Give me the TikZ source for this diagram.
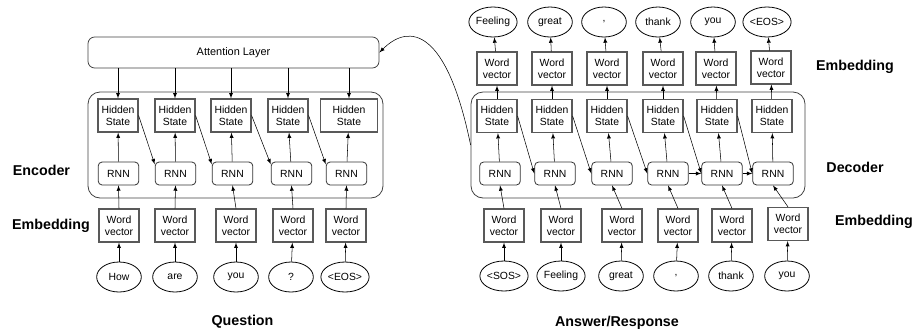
\documentclass[tikz,border=0pt]{standalone}
\usepackage{fontspec}
\setmainfont{Liberation Sans}
\usepackage{tikz}
\usetikzlibrary{shapes.geometric}

\begin{document}
\begin{tikzpicture}[x=0.75pt,y=-0.75pt,>=latex,
    sq_node/.style={rectangle,draw=black!65,line width=0.9pt,minimum width=30pt,minimum height=24.75pt,inner sep=0pt,align=center,font=\fontsize{7.8}{9}\selectfont},
    rnn_node/.style={rectangle,rounded corners=3pt,draw=black!80,line width=0.6pt,minimum width=30.5pt,minimum height=17.25pt,inner sep=0pt,font=\fontsize{7.8}{9}\selectfont},
    word_node/.style={ellipse,draw,line width=0.6pt,minimum width=33.5pt,minimum height=22.5pt,inner sep=0pt,font=\fontsize{7.8}{9}\selectfont},
    group_node/.style={rectangle,rounded corners=9pt,draw=black!75,line width=0.6pt,inner sep=0pt},
    label_node/.style={font=\fontsize{10.7}{12}\bfseries\selectfont}]

    \useasboundingbox (0,0) rectangle (916,333);

    % encoder
    \node[group_node,minimum width=221.25pt,minimum height=79.5pt] (enc) at (235.5,145) {};
    \node[group_node,rounded corners=5pt,minimum width=218.25pt,minimum height=23.25pt,font=\fontsize{8.2}{9}\selectfont] (att) at (233.5,52.5) {Attention Layer};

    \node[sq_node] (hs1) at (118,115.5) {Hidden\\State};
    \node[sq_node] (hs2) at (175,115.5) {Hidden\\State};
    \node[sq_node] (hs3) at (231,115.5) {Hidden\\State};
    \node[sq_node] (hs4) at (288,115.5) {Hidden\\State};
    \node[sq_node,minimum width=43pt] (hs5) at (349,115.5) {Hidden\\State};

    \node[rnn_node] (rnn1) at (118.5,173.5) {RNN};
    \node[rnn_node] (rnn2) at (175.5,173.5) {RNN};
    \node[rnn_node] (rnn3) at (232.5,173.5) {RNN};
    \node[rnn_node] (rnn4) at (291.5,173.5) {RNN};
    \node[rnn_node] (rnn5) at (346.5,173.5) {RNN};

    \node[sq_node] (wv1) at (119,225.5) {Word\\vector};
    \node[sq_node] (wv2) at (175,225.5) {Word\\vector};
    \node[sq_node] (wv3) at (236,225.5) {Word\\vector};
    \node[sq_node] (wv4) at (293,225.5) {Word\\vector};
    \node[sq_node] (wv5) at (346,225.5) {Word\\vector};

    \node[word_node] (w1) at (119,277) {How};
    \node[word_node] (w2) at (175,277) {are};
    \node[word_node] (w3) at (236,277) {you};
    \node[word_node] (w4) at (291,277) {?};
    \node[word_node] (w5) at (345,277) {<EOS>};

    \foreach \i in {1,...,5} {
        \draw[->] (w\i) -- (wv\i);
        \draw[->] (wv\i.north) -- (rnn\i.south);
        \draw[->] (rnn\i) -- (hs\i);
        \draw[->] (att.south -| hs\i.north) -- (hs\i.north);
    }
    \draw[->] (hs1.east) -- ([yshift=-2pt]rnn2.north west);
    \draw[->] (hs2.east) -- ([yshift=-2pt]rnn3.north west);
    \draw[->] (hs3.east) -- ([yshift=-2pt]rnn4.north west);
    \draw[->] (hs4.east) -- ([yshift=-2pt]rnn5.north west);

    % decoder
    \node[group_node,minimum width=250.5pt,minimum height=79.5pt] (dec) at (638,145) {};

    \node[word_node] (o1) at (493,22) {Feeling};
    \node[word_node] (o2) at (550,22) {great};
    \node[word_node] (o3) at (604,22) {,};
    \node[word_node] (o4) at (658,22) {thank};
    \node[word_node] (o5) at (713,22) {you};
    \node[word_node] (o6) at (767,22) {<EOS>};

    \node[sq_node] (owv1) at (497,68.5) {Word\\vector};
    \node[sq_node] (owv2) at (552,68.5) {Word\\vector};
    \node[sq_node] (owv3) at (607,68.5) {Word\\vector};
    \node[sq_node] (owv4) at (663,68.5) {Word\\vector};
    \node[sq_node] (owv5) at (716,68.5) {Word\\vector};
    \node[sq_node] (owv6) at (771,67.5) {Word\\vector};

    \node[sq_node] (dhs1) at (497,116) {Hidden\\State};
    \node[sq_node] (dhs2) at (552,116) {Hidden\\State};
    \node[sq_node] (dhs3) at (607,116) {Hidden\\State};
    \node[sq_node] (dhs4) at (663,116) {Hidden\\State};
    \node[sq_node] (dhs5) at (717,116) {Hidden\\State};
    \node[sq_node] (dhs6) at (772,116) {Hidden\\State};

    \node[rnn_node] (drnn1) at (500,173.5) {RNN};
    \node[rnn_node] (drnn2) at (555,173.5) {RNN};
    \node[rnn_node] (drnn3) at (612,173.5) {RNN};
    \node[rnn_node] (drnn4) at (668,173.5) {RNN};
    \node[rnn_node] (drnn5) at (722,173.5) {RNN};
    \node[rnn_node] (drnn6) at (773,173.5) {RNN};

    \node[sq_node] (iwv1) at (504,225.5) {Word\\vector};
    \node[sq_node] (iwv2) at (561,225.5) {Word\\vector};
    \node[sq_node] (iwv3) at (622,225.5) {Word\\vector};
    \node[sq_node] (iwv4) at (678,225.5) {Word\\vector};
    \node[sq_node] (iwv5) at (732,225.5) {Word\\vector};
    \node[sq_node] (iwv6) at (788,224) {Word\\vector};

    \node[word_node] (i1) at (504,276) {<SOS>};
    \node[word_node] (i2) at (561,276) {Feeling};
    \node[word_node] (i3) at (621,276) {great};
    \node[word_node] (i4) at (676,276) {,};
    \node[word_node] (i5) at (731,276) {thank};
    \node[word_node] (i6) at (787,276) {you};

    \foreach \i in {1,...,6} {
        \draw[->] (i\i) -- (iwv\i);
        \draw[->] (iwv\i.north) -- (drnn\i.south);
        \draw[->] (drnn\i) -- (dhs\i);
        \draw[->] (dhs\i) -- (owv\i);
        \draw[->] (owv\i) -- (o\i);
    }
    \draw[->] (dhs1.east) -- (drnn2.west);
    \draw[->] (dhs2.east) -- (drnn3.west);
    \draw[->] (dhs3.east) -- (drnn4.west);
    \draw[->] (dhs4.east) -- (drnn5.west);
    \draw[->] (dhs5.east) -- (drnn6.west);
    \draw[->] (drnn4) -- (drnn5);
    \draw[->] (drnn5) -- (drnn6);

    \draw[->] (dec.west) .. controls (447,30) and (410,22) .. (att.east);

    % labels
    \node[label_node] (l1) at (41.5,170) {Encoder};
    \node[label_node] (l2) at (51,226) {Embedding};
    \node[label_node] (l3) at (242.5,322) {Question};
    \node[label_node] (l4) at (855,67) {Embedding};
    \node[label_node] (l5) at (855,167) {Decoder};
    \node[label_node] (l6) at (874,222) {Embedding};
    \node[label_node] (l7) at (617,323) {Answer/Response};
\end{tikzpicture}
\end{document}
